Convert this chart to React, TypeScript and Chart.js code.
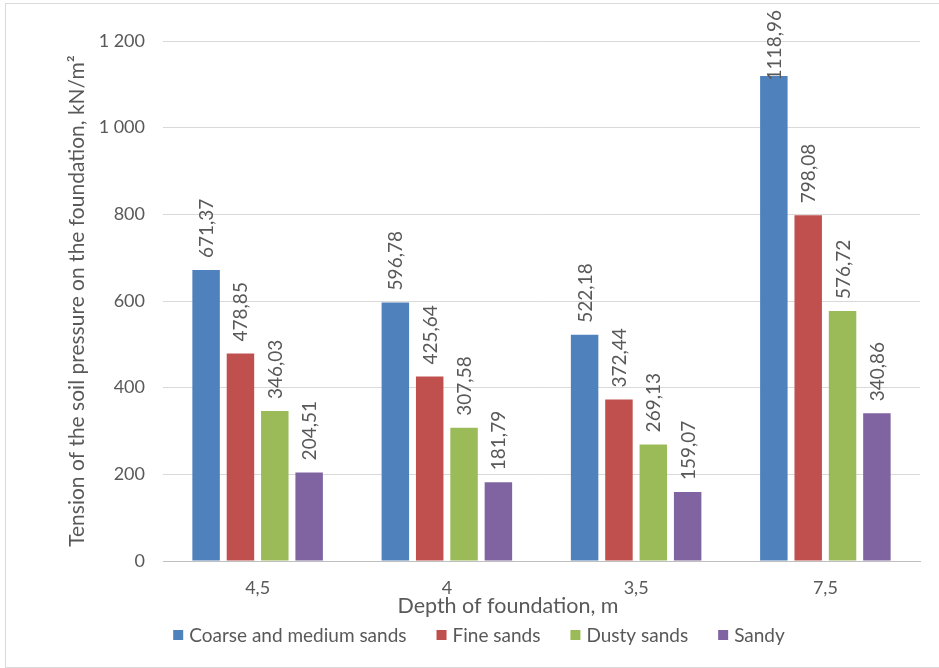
import { useEffect, useRef } from "react";
import { Chart, registerables } from "chart.js";

Chart.register(...registerables);

const categories = ["4,5", "4", "3,5", "7,5"];
const seriesNames = ["Coarse and medium sands", "Fine sands", "Dusty sands", "Sandy"];
const coarseMedium = [671.37, 596.78, 522.18, 1118.96];
const fineSands = [478.85, 425.64, 372.44, 798.08];
const dustySands = [346.03, 307.58, 269.13, 576.72];
const sandy = [204.51, 181.79, 159.07, 340.86];
const yMin = 0;
const yMax = 1200;
const yStep = 200;
const xTitle = "Depth of foundation, m";
const yTitle = "Tension of the soil pressure on the foundation, kN/m\u00B2";

const colors = ["#4F81BD", "#C0504D", "#9BBB59", "#8064A2"];
const FONT = "Lato, 'Open Sans', sans-serif";
const TEXT = "#595959";

const fmtLabel = (v: number) => v.toFixed(2).replace(".", ",");
const fmtTick = (v: number) => String(v).replace(/\B(?=(\d{3})+(?!\d))/g, " ");

const dataLabelPlugin = {
  id: "barLabels",
  afterDatasetsDraw(chart: any) {
    const ctx = chart.ctx;
    ctx.save();
    ctx.font = `19px ${FONT}`;
    ctx.fillStyle = TEXT;
    ctx.textAlign = "left";
    ctx.textBaseline = "alphabetic";
    chart.data.datasets.forEach((ds: any, di: number) => {
      const meta = chart.getDatasetMeta(di);
      meta.data.forEach((el: any, i: number) => {
        const txt = fmtLabel(ds.data[i]);
        const w = ctx.measureText(txt).width;
        let start = el.y - 12;
        if (start - w < 10) start = 10 + w;
        ctx.save();
        ctx.translate(el.x, start);
        ctx.rotate(-Math.PI / 2);
        ctx.fillText(txt, 0, 7);
        ctx.restore();
      });
    });
    ctx.restore();
  },
};

const titleAndLegendPlugin = {
  id: "titleAndLegend",
  afterDraw(chart: any) {
    const ctx = chart.ctx;
    ctx.save();
    // x axis title
    ctx.font = `21.5px ${FONT}`;
    ctx.fillStyle = TEXT;
    ctx.textAlign = "center";
    ctx.textBaseline = "middle";
    ctx.fillText(xTitle, 508, 606);
    // legend
    ctx.font = `19px ${FONT}`;
    ctx.textAlign = "left";
    const box = 10;
    const boxGap = 6;
    const gap = 30;
    const widths = seriesNames.map((n) => box + boxGap + ctx.measureText(n).width);
    const total = widths.reduce((a, b) => a + b, 0) + gap * (seriesNames.length - 1);
    let x = 479 - total / 2;
    const y = 635;
    seriesNames.forEach((n, i) => {
      ctx.fillStyle = colors[i];
      ctx.fillRect(x, y - box / 2, box, box);
      ctx.fillStyle = TEXT;
      ctx.fillText(n, x + box + boxGap, y + 1);
      x += widths[i] + gap;
    });
    ctx.restore();
  },
};

export default function App() {
  const ref = useRef<HTMLCanvasElement | null>(null);

  useEffect(() => {
    document.body.style.margin = "0";
    document.body.style.overflow = "hidden";
    const canvas = ref.current;
    if (!canvas) return;
    const series = [coarseMedium, fineSands, dustySands, sandy];
    const chart = new Chart(canvas, {
      type: "bar",
      data: {
        labels: categories,
        datasets: series.map((d, i) => ({
          label: seriesNames[i],
          data: d,
          backgroundColor: colors[i],
          borderWidth: 0,
          categoryPercentage: 0.726,
          barPercentage: 0.8,
        })),
      },
      options: {
        responsive: false,
        animation: false,
        devicePixelRatio: 1,
        layout: { padding: { top: 41, right: 19, left: 64.4, bottom: 49 } },
        plugins: {
          legend: { display: false },
          tooltip: { enabled: false },
        },
        scales: {
          x: {
            grid: { display: false, drawTicks: false },
            border: { display: true, color: "#bfbfbf", width: 1 },
            ticks: { color: TEXT, font: { family: FONT, size: 18 }, padding: 16 },
            title: { display: false, text: xTitle },
            afterFit(scale: any) {
              scale.height = 58;
            },
          },
          y: {
            min: yMin,
            max: yMax,
            grid: { color: "#d9d9d9", drawTicks: false },
            border: { display: false },
            ticks: {
              stepSize: yStep,
              color: TEXT,
              font: { family: FONT, size: 18 },
              padding: 18,
              callback: (v: any) => fmtTick(Number(v)),
            },
            title: {
              display: true,
              text: yTitle,
              color: TEXT,
              font: { family: FONT, size: 21 },
              padding: 0,
            },
            afterFit(scale: any) {
              scale.width = 98.6;
            },
          },
        },
      },
      plugins: [dataLabelPlugin, titleAndLegendPlugin],
    });
    return () => chart.destroy();
  }, []);

  return (
    <div style={{ position: "fixed", left: 0, top: 0, width: 939, height: 668, overflow: "hidden", background: "#fff" }}>
      <canvas ref={ref} width={939} height={668} style={{ width: 939, height: 668, display: "block" }} />
      <div
        style={{
          position: "absolute",
          left: 5,
          top: 3,
          width: 960,
          height: 663,
          border: "1px solid #d9d9d9",
          pointerEvents: "none",
        }}
      />
    </div>
  );
}
